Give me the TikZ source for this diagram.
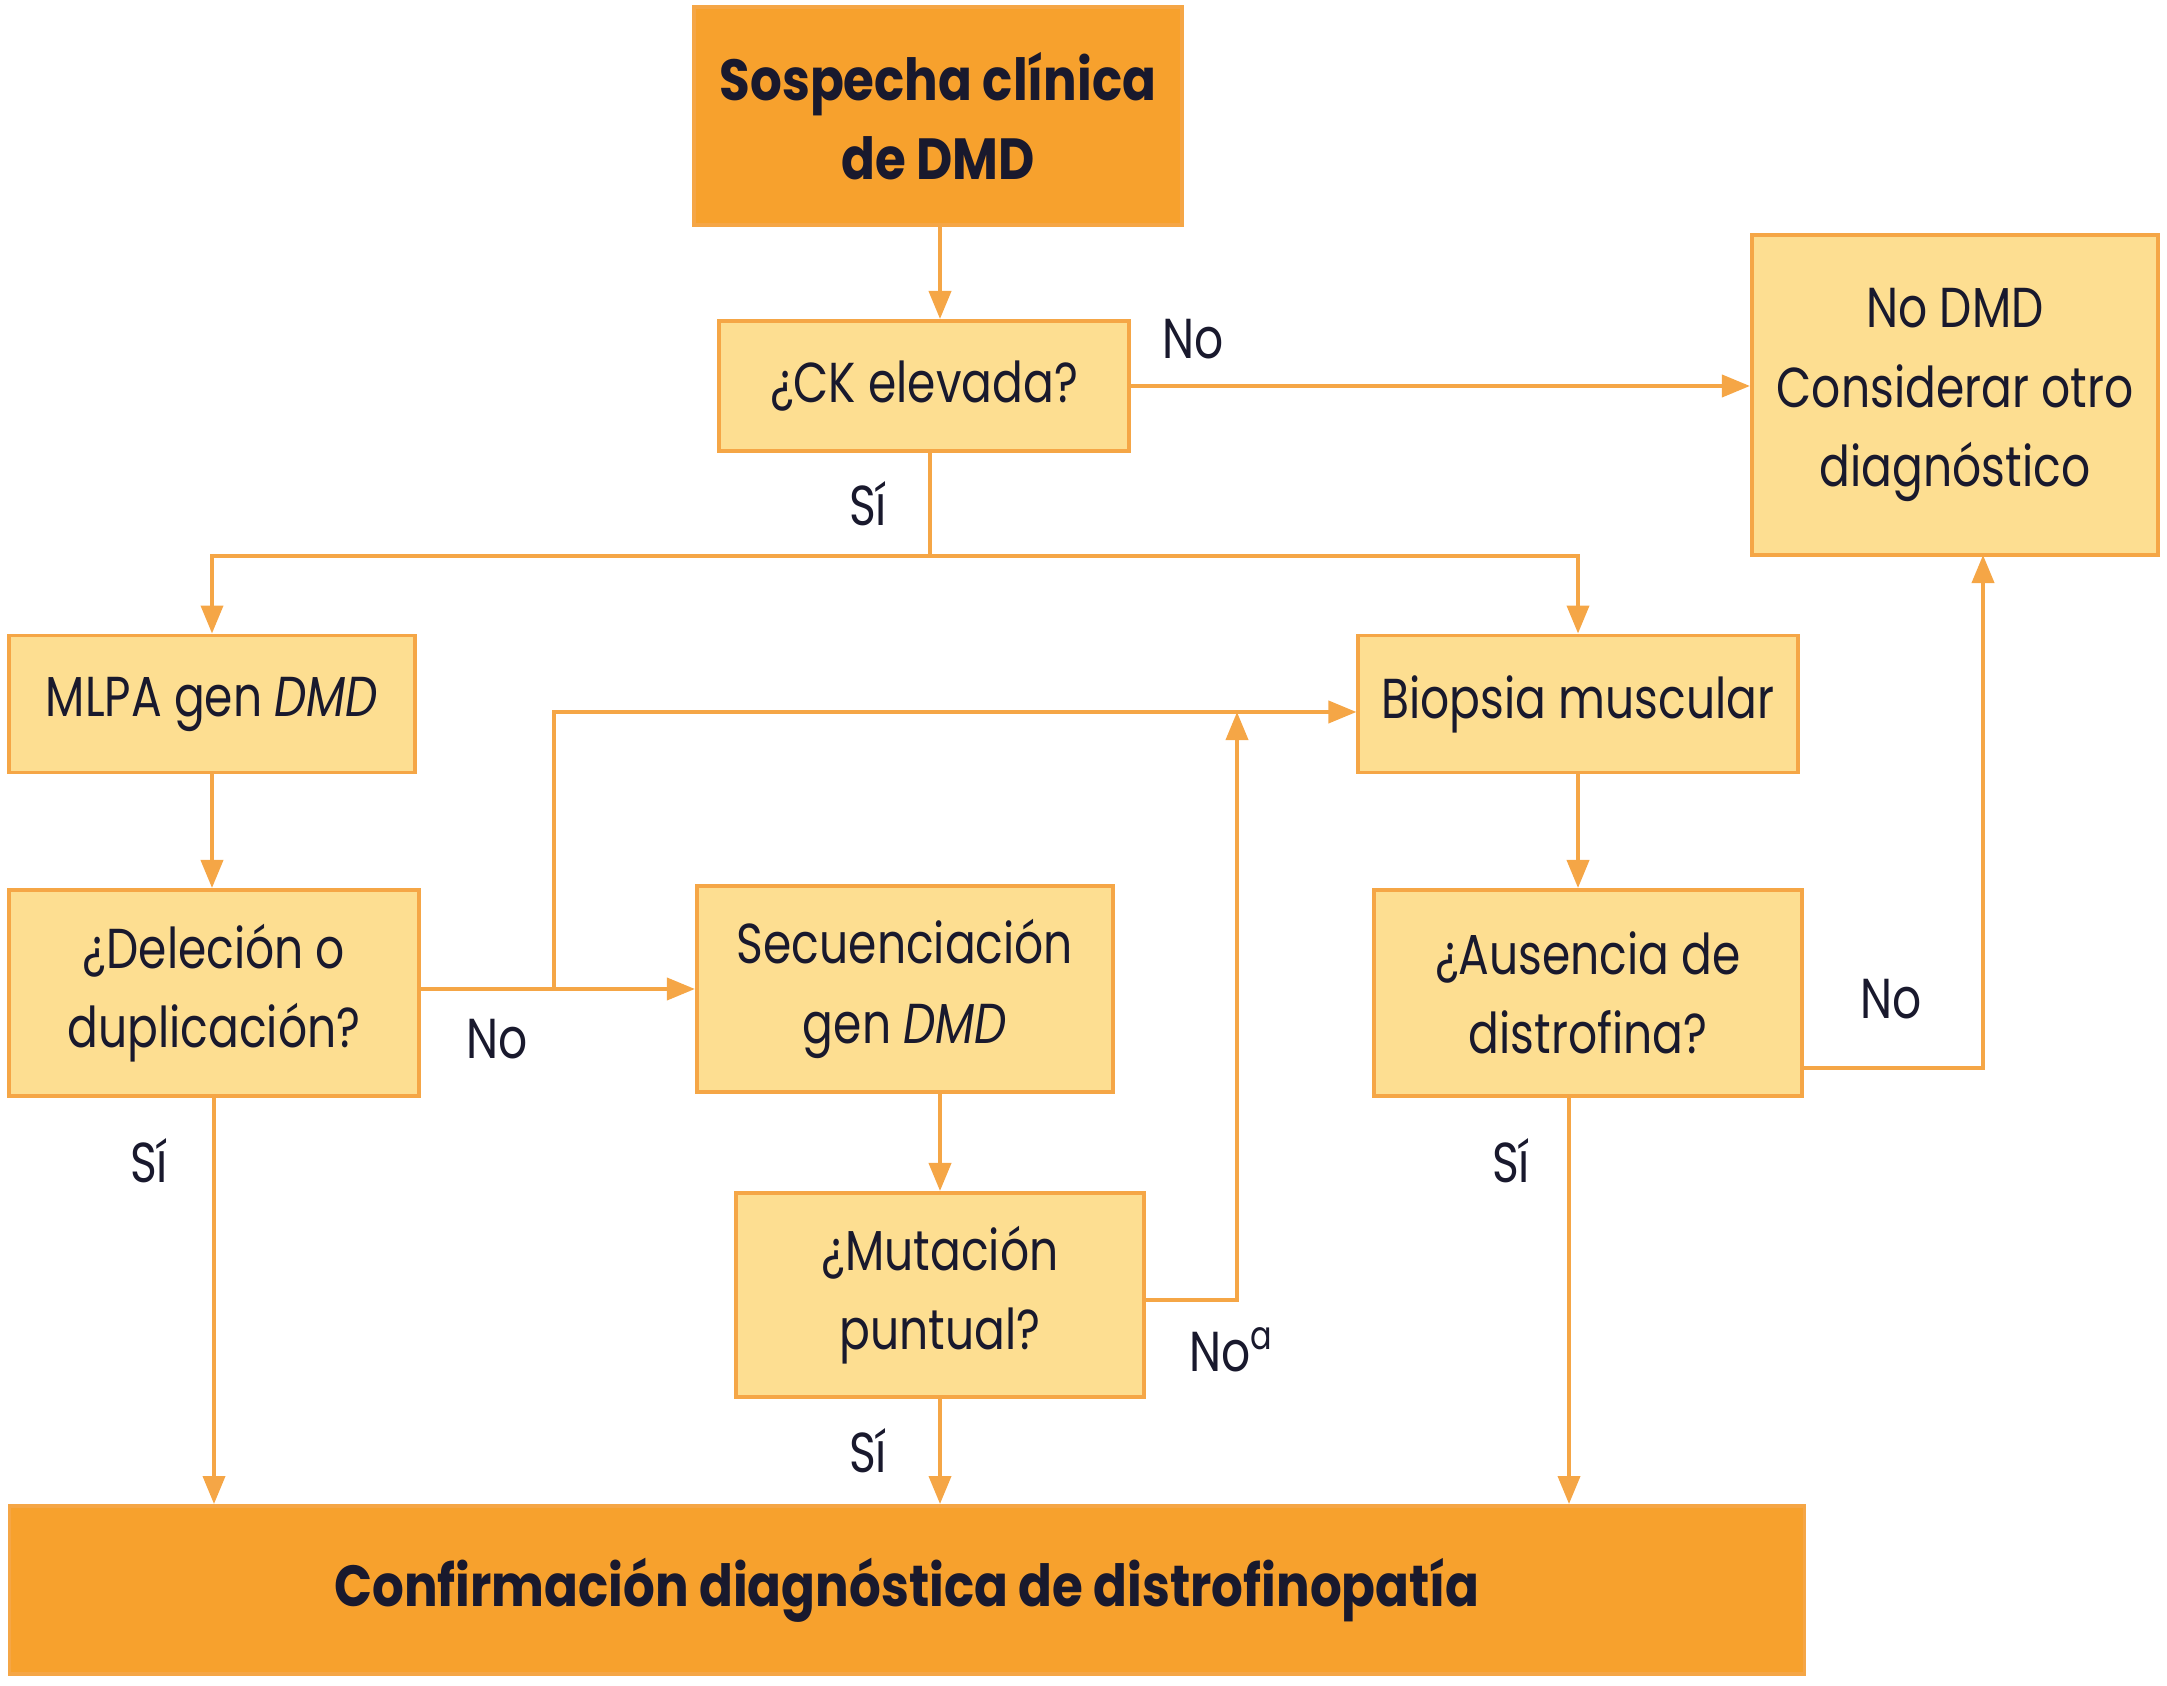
\documentclass[tikz,border=0pt]{standalone}
\usepackage{fontspec}
\setmainfont{Poppins}[FakeStretch=0.81, BoldFeatures={FakeStretch=0.86}]
\usetikzlibrary{arrows.meta, positioning}
\definecolor{darkor}{RGB}{247,161,45}
\definecolor{lightor}{RGB}{253,222,145}
\definecolor{lineor}{RGB}{245,166,70}
\definecolor{ink}{RGB}{25,25,45}

\begin{document}
\begin{tikzpicture}[->,>={Triangle[length=2.8mm,width=2.2mm]},x=0.01cm,y=-0.01cm,line width=1.1pt,draw=lineor,
  box/.style={rectangle, draw=lineor, fill=lightor, text=ink, align=center, inner sep=0pt, font=\fontsize{16}{22.6}\selectfont},
  headbox/.style={box, fill=darkor, font=\fontsize{16.5}{22.6}\selectfont\bfseries},
  lbl/.style={text=ink, font=\fontsize{16}{20}\selectfont}]
  \useasboundingbox (0,0) rectangle (2167,1686);

  \node[headbox, minimum width=4.87cm, minimum height=2.18cm] (susp) at (938,116) {Sospecha clínica\\de DMD};
  \node[box, minimum width=4.09cm, minimum height=1.30cm] (ck) at (924,386) {¿CK elevada?};
  \node[box, minimum width=4.06cm, minimum height=3.20cm] (nodmd) at (1955,395) {No DMD\\Considerar otro\\diagnóstico};
  \node[box, minimum width=4.05cm, minimum height=1.37cm] (mlpa) at (212,704) {MLPA gen \textit{DMD}};
  \node[box, minimum width=4.39cm, minimum height=1.37cm] (biop) at (1578,704) {Biopsia muscular};
  \node[box, minimum width=4.09cm, minimum height=2.06cm] (dele) at (214,993) {¿Deleción o\\duplicación?};
  \node[box, minimum width=4.16cm, minimum height=2.06cm] (secu) at (905,989) {Secuenciación\\gen \textit{DMD}};
  \node[box, minimum width=4.28cm, minimum height=2.06cm] (ause) at (1588,993) {¿Ausencia de\\distrofina?};
  \node[box, minimum width=4.07cm, minimum height=2.04cm] (muta) at (940,1295) {¿Mutación\\puntual?};
  \node[headbox, minimum width=17.94cm, minimum height=1.68cm] (conf) at (907,1590) {Confirmación diagnóstica de distrofinopatía};

  \coordinate (ckfork) at (930,556);
  \coordinate (delefork) at (554,989);
  \coordinate (mutaup) at (1237,712);
  \coordinate (ausefoot) at (1569,1096);
  \coordinate (ausebend) at (1802,1068);
  \coordinate (nodmdin) at (1983,555);

  \draw (susp.south -| 940,0) -- (ck.north -| 940,0);
  \draw (ck.east) -- (ck.east -| nodmd.west);
  \draw[-] (ck.south -| ckfork) -- (ckfork);
  \draw (ckfork) -| (mlpa.north);
  \draw (ckfork) -| (biop.north);
  \draw (mlpa.south) -- (mlpa.south |- dele.north);
  \draw (dele.east |- secu.west) -- (secu.west);
  \draw (delefork) |- (biop.west |- mutaup);
  \draw (muta.north |- secu.south) -- (muta.north);
  \draw (muta.east |- 0,1300) -| (mutaup);
  \draw (muta.south) -- (muta.south |- conf.north);
  \draw (dele.south) -- (dele.south |- conf.north);
  \draw (biop.south) -- (biop.south |- ause.north);
  \draw (ausefoot) -- (ausefoot |- conf.north);
  \draw (ausebend) -| (nodmdin);

  \node[lbl] (nock) at (1193,339) {No};
  \node[lbl] (sick) at (868,504) {Sí};
  \node[lbl] (nodele) at (497,1039) {No};
  \node[lbl] (sidele) at (149,1161) {Sí};
  \node[lbl] (nomuta) at (1232,1350) {No\textsuperscript{a}};
  \node[lbl] (simuta) at (868,1451) {Sí};
  \node[lbl] (siause) at (1511,1161) {Sí};
  \node[lbl] (noause) at (1891,999) {No};
\end{tikzpicture}
\end{document}
